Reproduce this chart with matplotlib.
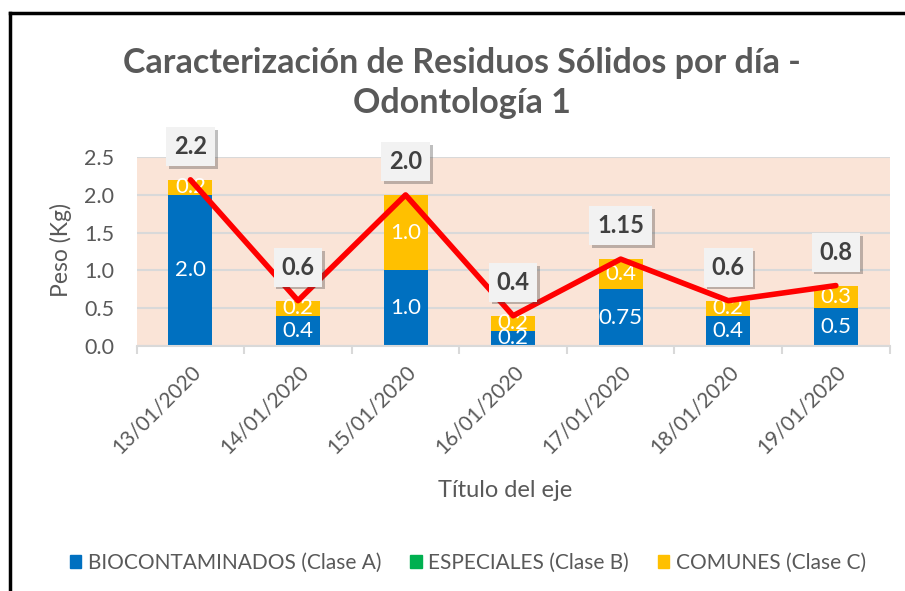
import matplotlib.pyplot as plt
import matplotlib.patheffects as pe
from matplotlib.lines import Line2D
from matplotlib.patches import Patch
import numpy as np

plt.rcParams['font.family'] = ['Lato', 'DejaVu Sans']

fechas = ['13/01/2020', '14/01/2020', '15/01/2020', '16/01/2020',
          '17/01/2020', '18/01/2020', '19/01/2020']
biocontaminados = [2.0, 0.4, 1.0, 0.2, 0.75, 0.4, 0.5]
especiales = [0, 0, 0, 0, 0, 0, 0]
comunes = [0.2, 0.2, 1.0, 0.2, 0.4, 0.2, 0.3]
total = [2.2, 0.6, 2.0, 0.4, 1.15, 0.6, 0.8]
total_txt = ['2.2', '0.6', '2.0', '0.4', '1.15', '0.6', '0.8']
bio_txt = ['2.0', '0.4', '1.0', '0.2', '0.75', '0.4', '0.5']
com_txt = ['0.2', '0.2', '1.0', '0.2', '0.4', '0.2', '0.3']

azul = '#0070C0'
verde = '#00B050'
amarillo = '#FFC000'
gris = '#595959'

fig = plt.figure(figsize=(9.05, 5.91), dpi=100)
ax = fig.add_axes([0.151, 0.4146, 0.832, 0.3195])
ax.set_facecolor('#FAE4D7')

x = np.arange(len(fechas))
w = 0.41
ax.bar(x, biocontaminados, w, color=azul, zorder=2)
ax.bar(x, especiales, w, bottom=biocontaminados, color=verde, zorder=2)
bottom2 = np.array(biocontaminados) + np.array(especiales)
ax.bar(x, comunes, w, bottom=bottom2, color=amarillo, zorder=2)

# etiquetas dentro de las barras (se solapan en 16/01 igual que el original)
for i in x:
    ax.text(i, biocontaminados[i] / 2, bio_txt[i], ha='center', va='center',
            color='white', fontsize=16, zorder=3)
    ax.text(i, bottom2[i] + comunes[i] / 2, com_txt[i], ha='center', va='center',
            color='white', fontsize=16, zorder=3)

ax.plot(x, total, color='#FF0000', lw=4, zorder=4, solid_capstyle='round')

for i in x:
    t = ax.annotate(total_txt[i], (i, total[i]), xytext=(0, 24),
                    textcoords='offset points', ha='center', va='center',
                    fontsize=17, fontweight='bold', color='#404040', zorder=6,
                    bbox=dict(boxstyle='square,pad=0.33', fc='#F2F2F2', ec='none'),
                    annotation_clip=False)
    t.get_bbox_patch().set_path_effects([pe.SimplePatchShadow(offset=(2, -2), alpha=0.35),
                                         pe.Normal()])

ax.set_xlim(-0.5, 6.5)
ax.set_ylim(0, 2.5)
ax.set_yticks([0, 0.5, 1.0, 1.5, 2.0, 2.5])
ax.set_yticklabels(['0.0', '0.5', '1.0', '1.5', '2.0', '2.5'])
ax.yaxis.grid(True, color='#D9D9D9', lw=1.5, zorder=1)
ax.set_axisbelow(True)
ax.tick_params(axis='y', length=0, labelsize=15.5, labelcolor=gris, pad=16)

ax.set_xticks(x)
ax.set_xticklabels(fechas, rotation=45, ha='right', rotation_mode='anchor')
ax.tick_params(axis='x', which='major', length=0, labelsize=15, labelcolor=gris, pad=11)
ax.set_xticks(np.arange(-0.5, 7, 1), minor=True)
ax.tick_params(axis='x', which='minor', length=6, color='#D9D9D9', width=1.5)

for s in ['top', 'right', 'left']:
    ax.spines[s].set_visible(False)
ax.spines['bottom'].set_color('#D9D9D9')
ax.spines['bottom'].set_linewidth(1.5)

ax.set_ylabel('Peso (Kg)', fontsize=16.5, color=gris)
ax.yaxis.set_label_coords(-0.086, 0.51)
ax.set_xlabel('Título del eje', fontsize=17, color=gris)
ax.xaxis.set_label_coords(0.49, -0.71)

fig.text(0.51, 0.860, 'Caracterización de Residuos Sólidos por día -\nOdontología 1',
         ha='center', va='center', fontsize=24.5, fontweight='bold', color=gris,
         linespacing=1.32)

handles = [Patch(color=azul), Patch(color=verde), Patch(color=amarillo)]
labels = ['BIOCONTAMINADOS (Clase A)', 'ESPECIALES (Clase B)', 'COMUNES (Clase C)']
fig.legend(handles, labels, loc='center', bbox_to_anchor=(0.517, 0.048), ncol=3,
           frameon=False, fontsize=15, labelcolor=gris, handlelength=0.55,
           handleheight=0.55, handletextpad=0.3, columnspacing=1.4)

# marco negro
fig.add_artist(Line2D([10 / 905, 1], [1 - 13 / 591, 1 - 13 / 591], color='black', lw=2.5))
fig.add_artist(Line2D([10 / 905, 10 / 905], [0, 1 - 13 / 591], color='black', lw=2.5))

fig.savefig('out.png', dpi=100, facecolor='white')
